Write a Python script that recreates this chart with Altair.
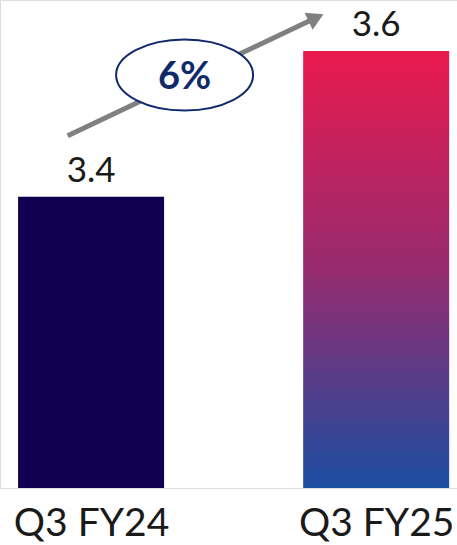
import altair as alt
import pandas as pd

# ---- data ----
categories = ["Q3 FY24", "Q3 FY25"]
positions = [0, 1]
values = [3.4, 3.6]
baseline_value = 3.0

arrow_start_x = [-0.082]
arrow_start_y = [3.4835]
arrow_end_x = [0.789]
arrow_end_y = [3.6456]

badge_x = [0.328]
badge_y = [3.567]
badge_text = ["6%"]

# ---- tables ----
bars = pd.DataFrame({"cat": categories, "pos": positions, "value": values,
                     "base": [baseline_value] * len(values)})
arrow = pd.DataFrame({"x": arrow_start_x, "y": arrow_start_y,
                      "x2": arrow_end_x, "y2": arrow_end_y})
head = pd.DataFrame({"x": arrow_end_x, "y": arrow_end_y})
badge = pd.DataFrame({"x": badge_x, "y": badge_y, "t": badge_text})

FONT = "Lato"
x_scale = alt.Scale(domain=[-0.302, 1.266], nice=False, zero=False)
y_scale = alt.Scale(domain=[3.0, 3.67], nice=False, zero=False)

label_expr = "[" + ",".join(f"'{c}'" for c in categories) + "][datum.value]"
x_axis = alt.Axis(values=positions, labelExpr=label_expr, domain=False, ticks=False,
                  grid=False, title=None, labelFont=FONT, labelFontSize=39,
                  labelColor="#1a1a1a", labelBaseline="alphabetic", labelPadding=47,
                  labelAngle=0)

base = alt.Chart(bars)

bar1 = base.transform_filter(alt.datum.pos == 0).mark_bar(size=146, color="#11004F").encode(
    x=alt.X("pos:Q", scale=x_scale, axis=x_axis),
    y=alt.Y("value:Q", scale=y_scale, axis=None),
    y2="base:Q",
)

grad = alt.Gradient(
    gradient="linear",
    stops=[alt.GradientStop(color="#E91A4E", offset=0),
           alt.GradientStop(color="#962B6F", offset=0.5),
           alt.GradientStop(color="#1B4DA0", offset=1)],
    x1=0, x2=0, y1=0, y2=1,
)
bar2 = base.transform_filter(alt.datum.pos == 1).mark_bar(size=146, color=grad).encode(
    x=alt.X("pos:Q", scale=x_scale, axis=x_axis),
    y=alt.Y("value:Q", scale=y_scale, axis=None),
    y2="base:Q",
)

val_text = base.mark_text(dy=-15, baseline="alphabetic", fontSize=35, font=FONT,
                          color="#1a1a1a").encode(
    x=alt.X("pos:Q", scale=x_scale),
    y=alt.Y("value:Q", scale=y_scale),
    text=alt.Text("value:Q", format=".1f"),
)

arrow_line = alt.Chart(arrow).mark_rule(color="#808080", strokeWidth=5).encode(
    x=alt.X("x:Q", scale=x_scale), y=alt.Y("y:Q", scale=y_scale),
    x2="x2:Q", y2="y2:Q",
)
arrow_head = alt.Chart(head).mark_point(shape="triangle-up", filled=True, size=360,
                                        angle=65, color="#808080", opacity=1).encode(
    x=alt.X("x:Q", scale=x_scale), y=alt.Y("y:Q", scale=y_scale),
)

ellipse = alt.Chart(badge).mark_point(
    shape="M-1,0A1,0.518,0,1,1,1,0A1,0.518,0,1,1,-1,0Z",
    size=137 * 137, filled=True, fill="white", fillOpacity=1,
    stroke="#10296A", strokeWidth=2, opacity=1,
).encode(x=alt.X("x:Q", scale=x_scale), y=alt.Y("y:Q", scale=y_scale))

badge_label = alt.Chart(badge).mark_text(fontSize=38, fontWeight="bold", font=FONT,
                                         color="#10296A", baseline="middle", dy=3).encode(
    x=alt.X("x:Q", scale=x_scale), y=alt.Y("y:Q", scale=y_scale), text="t:N",
)

chart = alt.layer(bar1, bar2, val_text, arrow_line, arrow_head, ellipse, badge_label).properties(
    width=457, height=488, padding=0,
).configure_view(stroke=None).configure(background="white")

chart.save("out.html", embed_options={"renderer": "svg", "actions": False})
